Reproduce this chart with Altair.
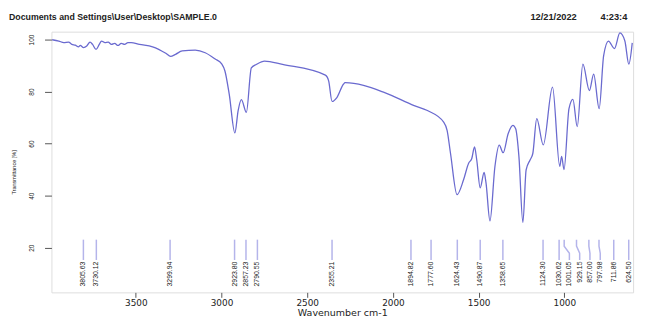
import altair as alt
import pandas as pd

# ---- spectrum ----
wavenumber = [3988, 3949, 3920, 3892, 3873, 3853, 3834, 3824, 3805, 3786, 3767, 3752,
              3732, 3713, 3700, 3680, 3661, 3642, 3623, 3604, 3585, 3565, 3546, 3527,
              3479, 3402, 3325, 3297, 3268, 3229, 3153, 3095, 3037, 2999,
              2980, 2955, 2922, 2903, 2884,
              2855, 2826, 2797, 2749, 2644, 2394, 2375, 2355, 2327, 2289, 2279, 2048,
              1876, 1799, 1703, 1684, 1664, 1626, 1588, 1559, 1540, 1524, 1511, 1491,
              1468, 1457, 1434, 1405, 1380, 1357, 1328, 1300, 1284, 1265, 1242, 1223,
              1200, 1184, 1161, 1123, 1069, 1027, 1016, 1002, 973, 950, 925, 892,
              854, 829, 797, 771, 743, 708, 676, 647, 624, 604]
transmittance = [99.9, 99.4, 98.8, 99.0, 98.1, 97.8, 97.2, 97.7, 96.9, 97.5, 99.0, 98.1,
                 96.2, 98.1, 99.4, 98.8, 99.0, 98.1, 98.5, 97.7, 98.5, 98.1, 98.8, 98.8,
                 98.1, 97.2, 94.7, 93.5, 94.3, 95.6, 95.9, 94.9, 92.5, 90.6,
                 87.9, 79.0, 64.1, 72.7, 76.9,
                 72.0, 89.1, 90.4, 91.7, 90.4, 86.3, 84.1, 76.2, 77.7, 82.8, 83.4, 79.6,
                 74.6, 72.7, 68.2, 65.1, 56.2, 40.4, 46.1, 52.4, 54.3, 58.7, 53.7, 43.0,
                 48.9, 44.9, 30.3, 51.2, 59.4, 56.5, 63.8, 67.0, 65.7, 55.0, 29.7, 49.9,
                 53.7, 56.2, 69.6, 59.5, 81.7, 51.3, 55.1, 50.0, 73.4, 77.0, 66.5, 90.5,
                 80.4, 86.7, 73.4, 93.7, 99.4, 96.5, 102.5, 99.4, 90.5, 98.7]

# ---- peak labels ----
peak_wn = [3805.63, 3730.12, 3299.94, 2923.80, 2857.23, 2790.55, 2355.21, 1894.82,
           1777.60, 1624.43, 1490.87, 1358.65, 1124.30, 1030.62, 1001.05, 929.15,
           857.00, 797.98, 711.86, 624.50]

x_ticks = [3500, 3000, 2500, 2000, 1500, 1000]
y_ticks = [20, 40, 60, 80, 100]
header_left = "Documents and Settings\\User\\Desktop\\SAMPLE.0"
header_date = "12/21/2022"
header_time = "4:23:4"

X_DOMAIN = [599, 3992]
Y_DOMAIN = [2.85, 103.0]
LINE_COLOR = "#6a6acf"
PEAK_COLOR = "#b4b4ea"
TEXT_COLOR = "#222222"

spec_df = pd.DataFrame({"wn": wavenumber, "t": transmittance,
                        "i": list(range(len(wavenumber)))})

# spread label positions so they don't overlap (label layout, like R's)
gap = 60.0
label_pos = []
prev = None
for w in peak_wn:
    p = w if prev is None else min(w, prev - gap)
    label_pos.append(p)
    prev = p

# connector: top (true position) -> bend -> label position
levels = [23.1, 20.6, 17.9, 15.3]
conn_rows = []
for k, (w, p) in enumerate(zip(peak_wn, label_pos)):
    pts = [w, w, p, p]
    for s, (xx, yy) in enumerate(zip(pts, levels)):
        conn_rows.append({"id": k, "s": s, "wn": xx, "t": yy})
conn_df = pd.DataFrame(conn_rows)
lab_df = pd.DataFrame({"wn": label_pos, "t": [14.7] * len(peak_wn),
                       "lab": [f"{w:.2f}" for w in peak_wn]})

xscale = alt.Scale(domain=X_DOMAIN, reverse=True, nice=False, zero=False)
yscale = alt.Scale(domain=Y_DOMAIN, nice=False, zero=False)

x_axis = alt.Axis(values=x_ticks, format="d", title="Wavenumber cm-1", grid=False,
                  domain=False, tickSize=5, tickColor="#555555", labelPadding=1,
                  labelFont="DejaVu Sans", labelFontSize=9, labelColor=TEXT_COLOR,
                  titleFont="DejaVu Sans", titleFontSize=9.6, titleFontWeight="normal",
                  titleColor=TEXT_COLOR, titleY=23, titleBaseline="alphabetic")
y_axis = alt.Axis(values=y_ticks, title="Transmittance [%]", grid=False, domain=False,
                  tickSize=7, tickColor="#555555", labelPadding=10,
                  labelAngle=270, labelAlign="center", labelBaseline="bottom",
                  labelFont="Liberation Sans", labelFontSize=6.6, labelColor=TEXT_COLOR,
                  titleFont="Liberation Sans", titleFontSize=5.6, titleFontWeight="normal",
                  titleColor=TEXT_COLOR, titleAngle=270, titleAlign="center",
                  titleBaseline="bottom", titleX=-35, titleY=142)

spectrum = alt.Chart(spec_df).mark_line(
    color=LINE_COLOR, strokeWidth=1.3, interpolate="monotone", clip=True
).encode(
    x=alt.X("wn:Q", scale=xscale, axis=x_axis),
    y=alt.Y("t:Q", scale=yscale, axis=y_axis),
    order=alt.Order("i:Q"),
)

connectors = alt.Chart(conn_df).mark_line(color=PEAK_COLOR, strokeWidth=1.5).encode(
    x=alt.X("wn:Q", scale=xscale),
    y=alt.Y("t:Q", scale=yscale),
    detail="id:N",
    order=alt.Order("s:Q"),
)

labels = alt.Chart(lab_df).mark_text(
    angle=270, align="right", baseline="middle", fontSize=7,
    font="Liberation Sans", color=TEXT_COLOR
).encode(
    x=alt.X("wn:Q", scale=xscale),
    y=alt.Y("t:Q", scale=yscale),
    text="lab:N",
)

hdr_df = pd.DataFrame({"txt": [header_left, header_date, header_time],
                       "k": ["a", "b", "c"]})
hdr_left = alt.Chart(hdr_df[hdr_df.k == "a"]).mark_text(
    align="left", baseline="alphabetic", font="Liberation Sans", fontWeight="bold",
    fontSize=8.9, color=TEXT_COLOR
).encode(text="txt:N", x=alt.value(-43), y=alt.value(-12))
hdr_date = alt.Chart(hdr_df[hdr_df.k == "b"]).mark_text(
    align="left", baseline="alphabetic", font="Liberation Sans", fontWeight="bold",
    fontSize=9.4, color=TEXT_COLOR
).encode(text="txt:N", x=alt.value(485), y=alt.value(-12))
hdr_time = alt.Chart(hdr_df[hdr_df.k == "c"]).mark_text(
    align="left", baseline="alphabetic", font="Liberation Sans", fontWeight="bold",
    fontSize=9.4, color=TEXT_COLOR
).encode(text="txt:N", x=alt.value(556), y=alt.value(-12))

chart = alt.layer(connectors, labels, spectrum, hdr_left, hdr_date, hdr_time).properties(
    width=589, height=264,
    autosize=alt.AutoSizeParams(type="none"),
    padding={"left": 44, "top": 22, "right": 8, "bottom": 26},
).configure_view(stroke="#8a8a8a", strokeWidth=1).configure(background="white")

chart.save("out.html", embed_options={"renderer": "svg", "actions": False})
